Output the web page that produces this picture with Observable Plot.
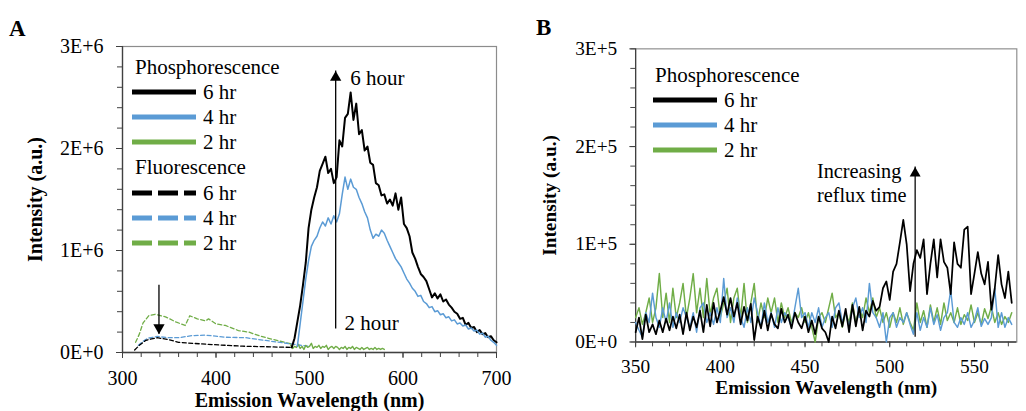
<!DOCTYPE html>
<html><head><meta charset="utf-8">
<script src="https://cdn.jsdelivr.net/npm/d3@7"></script>
<script src="https://cdn.jsdelivr.net/npm/@observablehq/plot@0.6"></script>
<style>
html,body{margin:0;padding:0;background:#fff;overflow:hidden;}
#wrap{position:relative;width:1026px;height:411px;overflow:hidden;font-family:"Liberation Serif","Tinos","Times New Roman","DejaVu Serif",serif;color:#000;}
#A{position:absolute;left:0;top:0;width:520px;height:411px;}
#B{position:absolute;left:520px;top:0;width:506px;height:411px;overflow:hidden;}
.panel{position:absolute;font-weight:bold;font-size:23px;line-height:23px;}
.lrow{position:absolute;height:26px;display:flex;align-items:center;font-size:21px;white-space:nowrap;}
.lrow svg{display:block;}
.lrow span{margin-left:7px;}
g[aria-label="x-axis label"], g[aria-label="y-axis label"]{font-weight:bold;}
</style></head>
<body>
<div id="wrap">
  <div id="A"></div>
  <div id="B"></div>
  <div class="panel" style="left:9px;top:17px">A</div>
  <div class="panel" style="left:536px;top:16px">B</div>
</div>
<script>
// ---------- Colours / series names ----------
const seriesNames = ["6 hr", "4 hr", "2 hr"];
const seriesColors = ["#000000", "#5b9bd5", "#70ad47"];

// ---------- Panel A: axes ----------
const xTicksA = [300, 400, 500, 600, 700];
const yTicksA = [0, 1e6, 2e6, 3e6];
const yTickLabelsA = ["0E+0", "1E+6", "2E+6", "3E+6"];

// ---------- Panel A: phosphorescence (units of 1E+6) ----------
const phosA6_start = 481, phosA6_step = 3;
const phosA6 = [
  0.05,0.14,0.30,0.46,0.66,0.88,1.22,1.40,1.52,1.62,
  1.78,1.85,1.92,1.76,1.80,1.66,1.72,2.08,2.02,2.30,
  2.34,2.55,2.28,2.44,2.14,2.18,1.98,2.02,1.86,1.84,
  1.66,1.64,1.54,1.55,1.46,1.50,1.44,1.56,1.40,1.52,
  1.26,1.22,1.14,0.98,0.92,0.84,0.77,0.74,0.70,0.62,
  0.54,0.58,0.53,0.57,0.50,0.52,0.47,0.44,0.40,0.38,
  0.33,0.34,0.27,0.29,0.24,0.25,0.20,0.22,0.18,0.19,
  0.15,0.16,0.12,0.10
];
const phosA4_start = 487, phosA4_step = 3;
const phosA4 = [
  0.06,0.28,0.50,0.72,0.90,1.04,1.10,1.14,1.22,1.28,
  1.24,1.32,1.26,1.34,1.28,1.36,1.55,1.72,1.60,1.70,
  1.62,1.60,1.52,1.46,1.38,1.32,1.20,1.12,1.16,1.14,
  1.20,1.17,1.10,1.04,0.98,0.92,0.88,0.84,0.78,0.72,
  0.68,0.63,0.60,0.55,0.56,0.50,0.48,0.44,0.45,0.40,
  0.41,0.37,0.38,0.34,0.35,0.31,0.32,0.28,0.29,0.26,
  0.27,0.23,0.24,0.21,0.22,0.18,0.19,0.15,0.16,0.12,
  0.10,0.07
];
const phosA2_start = 480, phosA2_step = 2;
const phosA2 = [
  0.07,0.04,0.06,0.05,0.08,0.04,0.06,0.03,0.07,0.05,
  0.06,0.09,0.04,0.06,0.05,0.07,0.04,0.06,0.05,0.07,
  0.03,0.05,0.06,0.04,0.06,0.05,0.03,0.05,0.04,0.06,
  0.03,0.05,0.04,0.06,0.03,0.05,0.04,0.03,0.05,0.03,
  0.04,0.05,0.03,0.04,0.03,0.05,0.03,0.04,0.03,0.04,
  0.03
];

// ---------- Panel A: fluorescence (units of 1E+6) ----------
const fluoA6_wl = [313,318,325,337,350,360,375,396,428,460,480];
const fluoA6 =    [0.025,0.07,0.12,0.145,0.125,0.10,0.09,0.078,0.062,0.055,0.05];
const fluoA4_wl = [317,322,327,337,349,360,374,389,410,432,453,480,500];
const fluoA4 =    [0.07,0.11,0.14,0.157,0.145,0.145,0.165,0.17,0.15,0.145,0.118,0.085,0.06];
const fluoA2_wl = [314,318,322,328,335,346,357,367,372,380,389,392,400,410,424,435,446,460,480];
const fluoA2 =    [0.10,0.18,0.29,0.36,0.375,0.35,0.30,0.265,0.36,0.33,0.31,0.33,0.28,0.265,0.215,0.20,0.165,0.13,0.085];

// ---------- Panel A: annotations ----------
const arrowsA = [
  {x: 528, from: 0.23e6, to: 2.76e6, dir: "up"},
  {x: 339, from: 0.66e6, to: 0.18e6, dir: "down"}
];
const notesA = [
  {x: 543.5, y: 2.69e6, text: "6 hour"},
  {x: 537.5, y: 0.29e6, text: "2 hour"}
];

// ---------- Panel B: axes ----------
const xTicksB = [350, 400, 450, 500, 550];
const yTicksB = [0, 1e5, 2e5, 3e5];
const yTickLabelsB = ["0E+0", "1E+5", "2E+5", "3E+5"];

// ---------- Panel B: phosphorescence (units of 1E+4), 350..572 nm every 2 nm ----------
const phosB_start = 350, phosB_step = 2;
const phosB6 = [
  1.0,2.5,0.3,2.8,1.0,1.8,0.8,2.2,1.0,2.4,
  1.2,2.6,1.4,2.8,0.8,3.0,1.2,2.6,1.5,3.2,
  1.0,3.8,1.6,4.0,2.0,3.2,4.6,2.8,4.5,2.6,
  4.0,1.8,3.6,2.2,3.9,0.2,2.6,1.4,3.2,1.2,
  2.9,1.8,1.4,3.4,2.0,2.8,1.4,3.0,2.0,1.4,
  2.6,1.0,2.2,0.8,2.6,1.4,1.0,0.0,2.6,1.4,
  3.2,1.6,3.4,1.0,3.8,1.6,3.6,1.2,3.2,2.6,
  4.2,3.2,3.6,5.5,6.2,4.3,7.2,8.0,10.2,12.5,
  10.0,5.2,8.0,9.4,8.6,10.5,4.9,8.0,10.5,6.6,
  10.5,8.2,7.6,4.9,10.2,8.0,7.6,11.5,11.8,4.9,
  7.0,9.2,7.0,5.9,8.2,3.3,5.5,8.9,5.9,4.5,
  7.2,4.0
];
const phosB4 = [
  2.0,1.2,0.5,3.0,2.0,5.0,2.5,1.5,3.5,2.0,
  4.0,1.5,3.0,2.0,3.5,2.5,1.5,3.0,1.0,3.5,
  4.0,2.0,3.0,1.8,3.5,2.0,6.5,2.5,3.5,2.0,
  4.5,2.5,1.5,3.5,2.0,4.5,3.0,1.5,4.0,2.0,
  3.0,1.5,3.5,2.0,3.0,2.5,1.5,3.5,5.5,2.5,
  3.0,1.5,3.0,2.0,3.5,1.5,2.5,3.0,1.5,3.5,
  4.0,2.0,3.0,1.5,3.5,4.5,2.5,3.5,2.0,6.0,
  3.0,2.5,1.5,3.0,0.0,2.5,3.0,1.5,2.5,2.0,
  3.0,1.8,0.8,3.0,1.2,2.5,1.5,3.5,1.8,2.8,
  1.2,2.5,3.0,5.3,2.0,1.5,2.5,1.8,3.0,1.5,
  2.2,3.5,1.6,2.4,1.8,2.5,5.5,1.5,3.0,1.5,
  2.5,1.8
];
const phosB2 = [
  2.5,3.5,1.8,3.0,4.5,2.0,3.5,7.0,2.5,5.0,
  2.0,5.5,2.5,4.0,6.0,2.5,4.5,7.0,3.0,5.5,
  2.5,6.5,2.8,4.5,5.5,2.5,4.0,5.5,2.0,4.5,
  5.5,2.5,6.0,2.0,4.0,6.0,2.0,4.0,2.5,4.5,
  3.0,4.5,2.0,4.0,2.5,3.5,2.0,3.0,2.5,3.5,
  2.0,3.0,1.5,0.0,2.5,3.0,2.0,3.5,5.0,2.5,
  3.0,1.5,3.0,2.0,4.0,2.0,3.5,2.5,4.5,3.0,
  4.5,2.5,3.5,2.0,3.0,1.5,3.0,2.0,3.5,1.8,
  3.0,2.0,1.2,4.0,2.0,3.2,1.5,3.8,2.0,3.5,
  1.8,4.0,2.2,3.0,2.0,3.5,1.8,2.8,2.2,3.8,
  2.0,3.0,1.8,3.4,2.4,3.6,2.0,3.0,1.8,2.6,
  2.0,3.0
];

// ---------- Panel B: annotations ----------
const arrowsB = [{x: 515, from: 0.05e5, to: 1.79e5, dir: "up"}];
const notesB = [
  {x: 457, y: 1.745e5, text: "Increasing"},
  {x: 457, y: 1.495e5, text: "reflux time"}
];

// ---------- helpers ----------
const regular = (start, step, vals, unit) => vals.map((v, i) => ({wl: start + i * step, v: v * unit}));
const paired = (wls, vals, unit) => vals.map((v, i) => ({wl: wls[i], v: v * unit}));
const font = "'Liberation Serif','Tinos','Times New Roman','DejaVu Serif',serif";
const axisColor = "#404040";

function arrowMarks(arrows) {
  return [
    Plot.ruleX(arrows, {x: "x", y1: "from", y2: "to", stroke: "#000", strokeWidth: 1.3}),
    Plot.dot(arrows.filter(d => d.dir === "up"), {x: "x", y: "to", symbol: "triangle", r: 4.2, fill: "#000", stroke: "none", dy: 6.5}),
    Plot.dot(arrows.filter(d => d.dir === "down"), {x: "x", y: "to", symbol: "triangle", r: 4.2, fill: "#000", stroke: "none", rotate: 180, dy: -6.5})
  ];
}

function axes(xDomain, yDomain, xTicks, xMinor, yTicks, yMinor, yLabels, yLabelOffset) {
  return [
    Plot.frame({stroke: "#8c8c8c", strokeWidth: 1.2}),
    Plot.axisX({ticks: xMinor, tickSize: 5, tickFormat: () => "", label: null, stroke: axisColor}),
    Plot.axisY({ticks: yMinor, tickSize: 5, tickFormat: () => "", label: null, stroke: axisColor}),
    Plot.axisX({ticks: xTicks, tickSize: 6, tickPadding: 12, tickFormat: d => String(d), stroke: axisColor,
      label: "Emission Wavelength (nm)", labelAnchor: "center", labelOffset: 54, labelArrow: false}),
    Plot.axisY({ticks: yTicks, tickSize: 6, tickPadding: 13, tickFormat: d => yLabels[yTicks.indexOf(d)], stroke: axisColor,
      label: "Intensity (a.u.)", labelAnchor: "center", labelOffset: yLabelOffset, labelArrow: false}),
    Plot.ruleX([xDomain[0]], {stroke: axisColor, strokeWidth: 1.3}),
    Plot.ruleY([yDomain[0]], {stroke: axisColor, strokeWidth: 1.3})
  ];
}

// ---------- Panel A ----------
const xDomA = [300, 700], yDomA = [0, 3e6];
const plotA = Plot.plot({
  width: 520, height: 411,
  marginLeft: 122, marginRight: 24, marginTop: 46, marginBottom: 59,
  style: {fontFamily: font, fontSize: "20px", color: "#000", background: "transparent", overflow: "visible"},
  x: {domain: xDomA},
  y: {domain: yDomA},
  marks: [
    ...axes(xDomA, yDomA, xTicksA, d3.range(300, 701, 20), yTicksA, d3.range(0, 3e6 + 1, 2e5), yTickLabelsA, 95),
    Plot.line(paired(fluoA2_wl, fluoA2, 1e6), {x: "wl", y: "v", stroke: seriesColors[2], strokeWidth: 1.3, strokeDasharray: "4,2.5"}),
    Plot.line(paired(fluoA4_wl, fluoA4, 1e6), {x: "wl", y: "v", stroke: seriesColors[1], strokeWidth: 1.3, strokeDasharray: "4,2.5"}),
    Plot.line(paired(fluoA6_wl, fluoA6, 1e6), {x: "wl", y: "v", stroke: seriesColors[0], strokeWidth: 1.3, strokeDasharray: "4,2.5"}),
    Plot.line(regular(phosA2_start, phosA2_step, phosA2, 1e6), {x: "wl", y: "v", stroke: seriesColors[2], strokeWidth: 1.4}),
    Plot.line(regular(phosA6_start, phosA6_step, phosA6, 1e6), {x: "wl", y: "v", stroke: seriesColors[0], strokeWidth: 2}),
    Plot.line(regular(phosA4_start, phosA4_step, phosA4, 1e6), {x: "wl", y: "v", stroke: seriesColors[1], strokeWidth: 1.5}),
    ...arrowMarks(arrowsA),
    Plot.text(notesA, {x: "x", y: "y", text: "text", textAnchor: "start", fontSize: 21, fill: "#000"})
  ]
});
document.getElementById("A").appendChild(plotA);

// ---------- Panel B ----------
const xDomB = [350, 575], yDomB = [0, 3e5];
const plotB = Plot.plot({
  width: 523, height: 411,
  marginLeft: 119, marginRight: 10, marginTop: 50, marginBottom: 58,
  style: {fontFamily: font, fontSize: "20px", color: "#000", background: "transparent", overflow: "visible"},
  x: {domain: xDomB},
  y: {domain: yDomB},
  marks: [
    ...axes(xDomB, yDomB, xTicksB, d3.range(350, 576, 10), yTicksB, d3.range(0, 3e5 + 1, 2e4), yTickLabelsB, 97),
    Plot.line(regular(phosB_start, phosB_step, phosB2, 1e4), {x: "wl", y: "v", stroke: seriesColors[2], strokeWidth: 1.5}),
    Plot.line(regular(phosB_start, phosB_step, phosB4, 1e4), {x: "wl", y: "v", stroke: seriesColors[1], strokeWidth: 1.5}),
    Plot.line(regular(phosB_start, phosB_step, phosB6, 1e4), {x: "wl", y: "v", stroke: seriesColors[0], strokeWidth: 1.8}),
    ...arrowMarks(arrowsB),
    Plot.text(notesB, {x: "x", y: "y", text: "text", textAnchor: "start", fontSize: 21, fill: "#000"})
  ]
});
document.getElementById("B").appendChild(plotB);

// ---------- Legends (HTML overlay) ----------
const wrap = document.getElementById("wrap");
function legendHead(text, left, cy) {
  const d = document.createElement("div");
  d.className = "lrow"; d.style.left = left + "px"; d.style.top = (cy - 13) + "px";
  d.textContent = text; wrap.appendChild(d);
}
function legendRow(label, color, dashed, left, cy) {
  const d = document.createElement("div");
  d.className = "lrow"; d.style.left = left + "px"; d.style.top = (cy - 13) + "px";
  d.innerHTML = `<svg width="64" height="8"><line x1="0" y1="4" x2="64" y2="4" stroke="${color}" stroke-width="5" ${dashed ? 'stroke-dasharray="20,6"' : ""}/></svg><span>${label}</span>`;
  wrap.appendChild(d);
}
legendHead("Phosphorescence", 135, 67);
seriesNames.forEach((n, i) => legendRow(n, seriesColors[i], false, 132, 92 + 25 * i));
legendHead("Fluorescence", 135, 167.5);
seriesNames.forEach((n, i) => legendRow(n, seriesColors[i], true, 132, 193 + 25 * i));
legendHead("Phosphorescence", 655, 75);
seriesNames.forEach((n, i) => legendRow(n, seriesColors[i], false, 653, 100 + 25 * i));
</script>
</body></html>
